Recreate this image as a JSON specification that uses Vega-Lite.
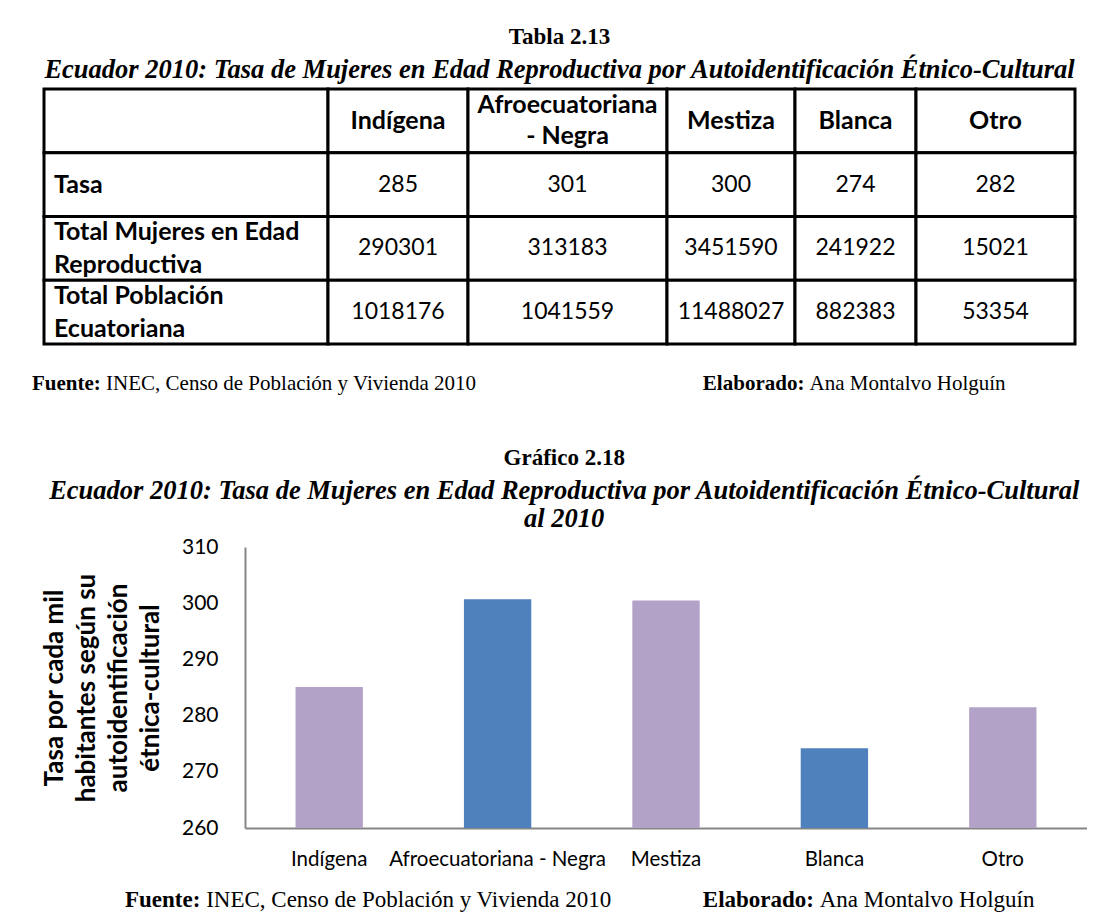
{
  "$schema": "https://vega.github.io/schema/vega-lite/v6.json",
  "background": "white",
  "padding": {"left": 31, "top": 26, "right": 0, "bottom": 0},
  "config": {
    "view": {"stroke": null},
    "font": "Lato",
    "text": {"font": "Lato", "color": "black"},
    "axis": {"labelFont": "Lato", "titleFont": "Lato", "labelColor": "black", "titleColor": "black"},
    "title": {"font": "Liberation Serif", "color": "black", "subtitleFont": "Liberation Serif", "subtitleColor": "black"}
  },
  "datasets": {
    "tabla": [
      {"columna": "etiqueta", "fila": "encabezado", "texto": ""},
      {"columna": "etiqueta", "fila": "tasa", "texto": "Tasa"},
      {"columna": "etiqueta", "fila": "mujeres", "texto": "Total Mujeres en Edad\nReproductiva"},
      {"columna": "etiqueta", "fila": "poblacion", "texto": "Total Población\nEcuatoriana"},
      {"columna": "Indígena", "fila": "encabezado", "texto": "Indígena"},
      {"columna": "Indígena", "fila": "tasa", "texto": "285"},
      {"columna": "Indígena", "fila": "mujeres", "texto": "290301"},
      {"columna": "Indígena", "fila": "poblacion", "texto": "1018176"},
      {"columna": "Afroecuatoriana - Negra", "fila": "encabezado", "texto": "Afroecuatoriana\n- Negra"},
      {"columna": "Afroecuatoriana - Negra", "fila": "tasa", "texto": "301"},
      {"columna": "Afroecuatoriana - Negra", "fila": "mujeres", "texto": "313183"},
      {"columna": "Afroecuatoriana - Negra", "fila": "poblacion", "texto": "1041559"},
      {"columna": "Mestiza", "fila": "encabezado", "texto": "Mestiza"},
      {"columna": "Mestiza", "fila": "tasa", "texto": "300"},
      {"columna": "Mestiza", "fila": "mujeres", "texto": "3451590"},
      {"columna": "Mestiza", "fila": "poblacion", "texto": "11488027"},
      {"columna": "Blanca", "fila": "encabezado", "texto": "Blanca"},
      {"columna": "Blanca", "fila": "tasa", "texto": "274"},
      {"columna": "Blanca", "fila": "mujeres", "texto": "241922"},
      {"columna": "Blanca", "fila": "poblacion", "texto": "882383"},
      {"columna": "Otro", "fila": "encabezado", "texto": "Otro"},
      {"columna": "Otro", "fila": "tasa", "texto": "282"},
      {"columna": "Otro", "fila": "mujeres", "texto": "15021"},
      {"columna": "Otro", "fila": "poblacion", "texto": "53354"}
    ],
    "graf": [
      {"etnia": "Indígena", "tasa": 285.1},
      {"etnia": "Afroecuatoriana - Negra", "tasa": 300.7},
      {"etnia": "Mestiza", "tasa": 300.5},
      {"etnia": "Blanca", "tasa": 274.2},
      {"etnia": "Otro", "tasa": 281.5}
    ],
    "pie": [
      {"lado": "Fuente", "etiqueta": "Fuente:", "texto": "INEC, Censo de Población y Vivienda 2010"},
      {"lado": "Elaborado", "etiqueta": "Elaborado:", "texto": "Ana Montalvo Holguín"}
    ]
  },
  "spacing": 0,
  "vconcat": [
    {
      "title": {
        "text": "Tabla 2.13",
        "subtitle": "Ecuador 2010: Tasa de Mujeres en Edad Reproductiva por Autoidentificación Étnico-Cultural",
        "fontSize": 23, "fontWeight": "bold",
        "subtitleFontSize": 26.5, "subtitleFontWeight": "bold", "subtitleFontStyle": "italic",
        "subtitlePadding": 8, "offset": 4, "anchor": "middle", "frame": "bounds"
      },
      "bounds": "flush",
      "spacing": 0,
      "hconcat": [
        {
          "width": 284, "height": 255,
          "data": {"name": "tabla"},
          "transform": [{"filter": "datum.columna === 'etiqueta'"}],
          "encoding": {
            "y": {"field": "fila", "type": "nominal", "axis": null, "sort": ["encabezado", "tasa", "mujeres", "poblacion"], "scale": {"paddingInner": 0, "paddingOuter": 0}}
          },
          "layer": [
            {"mark": {"type": "rect", "fill": "white", "stroke": "black", "strokeWidth": 3},
             "encoding": {"x": {"field": "columna", "type": "nominal", "axis": null, "scale": {"paddingInner": 0, "paddingOuter": 0}}}},
            {"transform": [{"filter": "indexof(datum.texto, '\\n') < 0"}],
             "mark": {"type": "text", "fontSize": 25, "fontWeight": "bold", "align": "left", "baseline": "middle", "dx": 10},
             "encoding": {"x": {"field": "columna", "type": "nominal", "axis": null, "bandPosition": 0}, "text": {"field": "texto"}}},
            {"transform": [{"filter": "indexof(datum.texto, '\\n') >= 0"}],
             "mark": {"type": "text", "fontSize": 25, "fontWeight": "bold", "align": "left", "baseline": "middle", "lineBreak": "\n", "lineHeight": 33, "dx": 10, "dy": -16.5},
             "encoding": {"x": {"field": "columna", "type": "nominal", "axis": null, "bandPosition": 0}, "text": {"field": "texto"}}}
          ]
        },
        {
          "width": 140, "height": 255,
          "data": {"name": "tabla"},
          "transform": [{"filter": "datum.columna === 'Indígena'"}],
          "encoding": {
            "x": {"field": "columna", "type": "nominal", "axis": null, "scale": {"paddingInner": 0, "paddingOuter": 0}},
            "y": {"field": "fila", "type": "nominal", "axis": null, "sort": ["encabezado", "tasa", "mujeres", "poblacion"], "scale": {"paddingInner": 0, "paddingOuter": 0}}
          },
          "layer": [
            {"mark": {"type": "rect", "fill": "white", "stroke": "black", "strokeWidth": 3}},
            {"transform": [{"filter": "datum.fila === 'encabezado'"}], "mark": {"type": "text", "fontSize": 25, "fontWeight": "bold", "baseline": "middle"}, "encoding": {"text": {"field": "texto"}}},
            {"transform": [{"filter": "datum.fila !== 'encabezado'"}], "mark": {"type": "text", "fontSize": 23, "baseline": "middle"}, "encoding": {"text": {"field": "texto"}}}
          ]
        },
        {
          "width": 199, "height": 255,
          "data": {"name": "tabla"},
          "transform": [{"filter": "datum.columna === 'Afroecuatoriana - Negra'"}],
          "encoding": {
            "x": {"field": "columna", "type": "nominal", "axis": null, "scale": {"paddingInner": 0, "paddingOuter": 0}},
            "y": {"field": "fila", "type": "nominal", "axis": null, "sort": ["encabezado", "tasa", "mujeres", "poblacion"], "scale": {"paddingInner": 0, "paddingOuter": 0}}
          },
          "layer": [
            {"mark": {"type": "rect", "fill": "white", "stroke": "black", "strokeWidth": 3}},
            {"transform": [{"filter": "datum.fila === 'encabezado'"}], "mark": {"type": "text", "fontSize": 25, "fontWeight": "bold", "baseline": "middle", "lineBreak": "\n", "lineHeight": 31, "dy": -15.5}, "encoding": {"text": {"field": "texto"}}},
            {"transform": [{"filter": "datum.fila !== 'encabezado'"}], "mark": {"type": "text", "fontSize": 23, "baseline": "middle"}, "encoding": {"text": {"field": "texto"}}}
          ]
        },
        {
          "width": 128, "height": 255,
          "data": {"name": "tabla"},
          "transform": [{"filter": "datum.columna === 'Mestiza'"}],
          "encoding": {
            "x": {"field": "columna", "type": "nominal", "axis": null, "scale": {"paddingInner": 0, "paddingOuter": 0}},
            "y": {"field": "fila", "type": "nominal", "axis": null, "sort": ["encabezado", "tasa", "mujeres", "poblacion"], "scale": {"paddingInner": 0, "paddingOuter": 0}}
          },
          "layer": [
            {"mark": {"type": "rect", "fill": "white", "stroke": "black", "strokeWidth": 3}},
            {"transform": [{"filter": "datum.fila === 'encabezado'"}], "mark": {"type": "text", "fontSize": 25, "fontWeight": "bold", "baseline": "middle"}, "encoding": {"text": {"field": "texto"}}},
            {"transform": [{"filter": "datum.fila !== 'encabezado'"}], "mark": {"type": "text", "fontSize": 23, "baseline": "middle"}, "encoding": {"text": {"field": "texto"}}}
          ]
        },
        {
          "width": 121, "height": 255,
          "data": {"name": "tabla"},
          "transform": [{"filter": "datum.columna === 'Blanca'"}],
          "encoding": {
            "x": {"field": "columna", "type": "nominal", "axis": null, "scale": {"paddingInner": 0, "paddingOuter": 0}},
            "y": {"field": "fila", "type": "nominal", "axis": null, "sort": ["encabezado", "tasa", "mujeres", "poblacion"], "scale": {"paddingInner": 0, "paddingOuter": 0}}
          },
          "layer": [
            {"mark": {"type": "rect", "fill": "white", "stroke": "black", "strokeWidth": 3}},
            {"transform": [{"filter": "datum.fila === 'encabezado'"}], "mark": {"type": "text", "fontSize": 25, "fontWeight": "bold", "baseline": "middle"}, "encoding": {"text": {"field": "texto"}}},
            {"transform": [{"filter": "datum.fila !== 'encabezado'"}], "mark": {"type": "text", "fontSize": 23, "baseline": "middle"}, "encoding": {"text": {"field": "texto"}}}
          ]
        },
        {
          "width": 159, "height": 255,
          "data": {"name": "tabla"},
          "transform": [{"filter": "datum.columna === 'Otro'"}],
          "encoding": {
            "x": {"field": "columna", "type": "nominal", "axis": null, "scale": {"paddingInner": 0, "paddingOuter": 0}},
            "y": {"field": "fila", "type": "nominal", "axis": null, "sort": ["encabezado", "tasa", "mujeres", "poblacion"], "scale": {"paddingInner": 0, "paddingOuter": 0}}
          },
          "layer": [
            {"mark": {"type": "rect", "fill": "white", "stroke": "black", "strokeWidth": 3}},
            {"transform": [{"filter": "datum.fila === 'encabezado'"}], "mark": {"type": "text", "fontSize": 25, "fontWeight": "bold", "baseline": "middle"}, "encoding": {"text": {"field": "texto"}}},
            {"transform": [{"filter": "datum.fila !== 'encabezado'"}], "mark": {"type": "text", "fontSize": 23, "baseline": "middle"}, "encoding": {"text": {"field": "texto"}}}
          ]
        }
      ]
    },
    {
      "width": 1031, "height": 100,
      "data": {"name": "pie"},
      "layer": [
        {"transform": [{"filter": "datum.lado === 'Fuente'"}],
         "mark": {"type": "text", "font": "Liberation Serif", "fontSize": 21, "fontWeight": "bold", "align": "right", "baseline": "middle", "dy": -12},
         "encoding": {"x": {"field": "lado", "type": "nominal", "axis": null, "sort": ["Fuente", "Elaborado"], "scale": {"type": "point", "padding": 0.2327, "align": 0.1735}}, "text": {"field": "etiqueta"}}},
        {"transform": [{"filter": "datum.lado === 'Fuente'"}],
         "mark": {"type": "text", "font": "Liberation Serif", "fontSize": 21, "align": "left", "baseline": "middle", "dy": -12, "dx": 5.25},
         "encoding": {"x": {"field": "lado", "type": "nominal", "axis": null, "sort": ["Fuente", "Elaborado"]}, "text": {"field": "texto"}}},
        {"transform": [{"filter": "datum.lado === 'Elaborado'"}],
         "mark": {"type": "text", "font": "Liberation Serif", "fontSize": 21, "fontWeight": "bold", "align": "right", "baseline": "middle", "dy": -12},
         "encoding": {"x": {"field": "lado", "type": "nominal", "axis": null, "sort": ["Fuente", "Elaborado"]}, "text": {"field": "etiqueta"}}},
        {"transform": [{"filter": "datum.lado === 'Elaborado'"}],
         "mark": {"type": "text", "font": "Liberation Serif", "fontSize": 21, "align": "left", "baseline": "middle", "dy": -12, "dx": 5.25},
         "encoding": {"x": {"field": "lado", "type": "nominal", "axis": null, "sort": ["Fuente", "Elaborado"]}, "text": {"field": "texto"}}}
      ]
    },
    {
      "bounds": "flush",
      "spacing": 0,
      "hconcat": [
        {"width": 201, "height": 1, "data": {"values": []}, "mark": "point"},
        {
          "width": 842, "height": 281,
          "title": {
            "text": "Gráfico 2.18",
            "subtitle": ["Ecuador 2010: Tasa de Mujeres en Edad Reproductiva por Autoidentificación Étnico-Cultural", "al 2010"],
            "fontSize": 23, "fontWeight": "bold",
            "subtitleFontSize": 26.5, "subtitleFontWeight": "bold", "subtitleFontStyle": "italic", "subtitleLineHeight": 28,
            "subtitlePadding": 8, "offset": 4, "anchor": "middle", "frame": "bounds"
          },
          "data": {"name": "graf"},
          "mark": {"type": "bar"},
          "encoding": {
            "x": {"field": "etnia", "type": "nominal", "sort": ["Indígena", "Afroecuatoriana - Negra", "Mestiza", "Blanca", "Otro"],
                  "scale": {"paddingInner": 0.6, "paddingOuter": 0.3},
                  "axis": {"title": null, "labelAngle": 0, "labelFontSize": 20.5, "labelLimit": 0, "labelOverlap": false, "ticks": false, "labelPadding": 21, "domainColor": "#868686", "domainWidth": 2}},
            "y": {"field": "tasa", "type": "quantitative", "scale": {"domain": [260, 310], "zero": false, "nice": false},
                  "axis": {"title": ["Tasa por cada mil", "habitantes según su", "autoidentificación", "étnica-cultural"],
                           "values": [260, 270, 280, 290, 300, 310], "grid": false, "ticks": false, "labelPadding": 27, "labelFontSize": 21,
                           "titleFontSize": 26, "titleFontWeight": "bold", "titleLineHeight": 32, "titlePadding": 18,
                           "domainColor": "#868686", "domainWidth": 2}},
            "y2": {"datum": 260},
            "color": {"field": "etnia", "type": "nominal",
                      "scale": {"domain": ["Indígena", "Afroecuatoriana - Negra", "Mestiza", "Blanca", "Otro"], "range": ["#B3A2C7", "#4F81BD", "#B3A2C7", "#4F81BD", "#B3A2C7"]},
                      "legend": null}
          }
        }
      ]
    },
    {
      "width": 1031, "height": 40,
      "data": {"name": "pie"},
      "layer": [
        {"transform": [{"filter": "datum.lado === 'Fuente'"}],
         "mark": {"type": "text", "font": "Liberation Serif", "fontSize": 23, "fontWeight": "bold", "align": "right", "baseline": "middle", "dy": 10},
         "encoding": {"x": {"field": "lado", "type": "nominal", "axis": null, "sort": ["Fuente", "Elaborado"], "scale": {"type": "point", "padding": 0.3401, "align": 0.3747}}, "text": {"field": "etiqueta"}}},
        {"transform": [{"filter": "datum.lado === 'Fuente'"}],
         "mark": {"type": "text", "font": "Liberation Serif", "fontSize": 23, "align": "left", "baseline": "middle", "dy": 10, "dx": 5.75},
         "encoding": {"x": {"field": "lado", "type": "nominal", "axis": null, "sort": ["Fuente", "Elaborado"]}, "text": {"field": "texto"}}},
        {"transform": [{"filter": "datum.lado === 'Elaborado'"}],
         "mark": {"type": "text", "font": "Liberation Serif", "fontSize": 23, "fontWeight": "bold", "align": "right", "baseline": "middle", "dy": 10},
         "encoding": {"x": {"field": "lado", "type": "nominal", "axis": null, "sort": ["Fuente", "Elaborado"]}, "text": {"field": "etiqueta"}}},
        {"transform": [{"filter": "datum.lado === 'Elaborado'"}],
         "mark": {"type": "text", "font": "Liberation Serif", "fontSize": 23, "align": "left", "baseline": "middle", "dy": 10, "dx": 5.75},
         "encoding": {"x": {"field": "lado", "type": "nominal", "axis": null, "sort": ["Fuente", "Elaborado"]}, "text": {"field": "texto"}}}
      ]
    }
  ]
}
